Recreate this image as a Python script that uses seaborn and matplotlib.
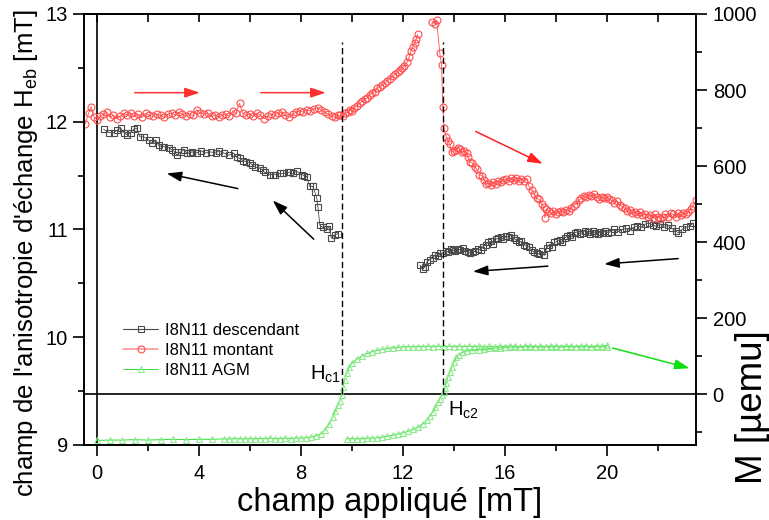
import numpy as np
import pandas as pd
import matplotlib
matplotlib.use("Agg")
import matplotlib.pyplot as plt
import seaborn as sns
from matplotlib.lines import Line2D

# ---------------- data ----------------
# descending branch (black squares), two segments
desc1_x = [0.27,0.47,0.67,0.78,0.94,1.06,1.18,1.33,1.45,1.57,1.69,1.84,2.04,2.16,2.31,2.43,2.55,2.63,2.82,2.94,
           3.06,3.14,3.29,3.41,3.53,3.65,3.73,3.92,4.08,4.27,4.47,4.67,4.78,4.98,5.18,5.37,5.49,5.61,5.73,5.86,
           6.0,6.1,6.2,6.39,6.5,6.59,6.78,6.9,6.98,7.18,7.29,7.49,7.57,7.69,7.84,8.04,8.14,8.24,8.35,8.47,
           8.55,8.63,8.67,8.75,8.86,9.02,9.1,9.2,9.33,9.45]
desc1_y = [11.93,11.90,11.90,11.92,11.94,11.90,11.88,11.90,11.93,11.94,11.86,11.86,11.83,11.80,11.83,11.78,11.77,11.77,11.76,11.74,
           11.72,11.69,11.72,11.74,11.71,11.71,11.72,11.71,11.73,11.71,11.72,11.71,11.73,11.71,11.69,11.71,11.67,11.66,11.64,11.63,
           11.62,11.60,11.58,11.57,11.55,11.53,11.51,11.51,11.51,11.52,11.52,11.53,11.53,11.52,11.54,11.51,11.50,11.49,11.40,11.40,
           11.35,11.29,11.21,11.04,11.02,11.00,11.03,10.92,10.95,10.96]
desc2_x = [12.67,12.78,12.86,12.95,13.06,13.17,13.27,13.38,13.48,13.57,13.68,13.78,13.88,13.96,14.06,14.16,14.26,14.35,14.45,14.55,
           14.65,14.75,14.85,14.95,15.05,15.15,15.25,15.35,15.45,15.55,15.65,15.75,15.85,15.95,16.05,16.15,16.25,16.35,16.45,16.55,
           16.65,16.75,16.85,16.95,17.05,17.15,17.25,17.35,17.45,17.55,17.65,17.75,17.85,17.95,18.05,18.15,18.25,18.35,18.45,18.55,
           18.65,18.75,18.85,18.95,19.05,19.15,19.25,19.35,19.45,19.55,19.65,19.75,19.85,19.95,20.05,20.15,20.3,20.45,20.6,20.75,
           20.9,21.05,21.2,21.35,21.5,21.65,21.8,21.95,22.1,22.25,22.4,22.55,22.7,22.8,22.95,23.1,23.25,23.4]
desc2_y = [10.67,10.63,10.65,10.70,10.72,10.74,10.76,10.75,10.78,10.78,10.80,10.79,10.82,10.81,10.80,10.82,10.81,10.83,10.80,10.79,
           10.78,10.79,10.80,10.82,10.81,10.84,10.86,10.88,10.89,10.87,10.91,10.92,10.93,10.91,10.94,10.93,10.95,10.92,10.90,10.88,
           10.89,10.86,10.85,10.84,10.81,10.79,10.78,10.77,10.80,10.76,10.83,10.86,10.84,10.88,10.89,10.90,10.88,10.92,10.94,10.95,
           10.93,10.97,10.98,10.96,10.97,10.99,10.98,10.96,10.99,10.97,10.96,10.98,10.97,10.99,10.97,10.98,11.00,10.98,11.00,11.01,
           10.99,11.02,11.03,11.02,11.05,11.06,11.04,11.03,11.05,11.02,11.04,11.01,10.99,10.97,11.00,11.02,11.03,11.06]

# ascending branch (red circles), three segments
mont1_x = [-0.45,-0.32,-0.22,-0.1,0.02,0.14,0.26,0.39,0.52,0.65,0.78,0.92,1.06,1.2,1.33,1.47,1.62,1.77,1.92,2.06,
           2.2,2.35,2.5,2.64,2.79,2.94,3.08,3.22,3.36,3.5,3.64,3.78,3.92,4.06,4.2,4.35,4.5,4.64,4.78,4.92,
           5.06,5.2,5.34,5.45,5.6,5.72,5.86,6.0,6.14,6.28,6.42,6.56,6.7,6.84,6.98,7.12,7.26,7.4,7.54,7.68,
           7.82,7.96,8.1,8.24,8.38,8.52,8.66,8.8,8.94,9.08,9.22,9.36,9.48]
mont1_y = [11.98,12.08,12.14,12.04,12.02,12.05,12.07,12.09,12.04,12.06,12.03,12.05,12.08,12.06,12.08,12.05,12.07,12.04,12.08,12.06,
           12.05,12.07,12.06,12.04,12.07,12.08,12.06,12.09,12.07,12.05,12.07,12.06,12.11,12.08,12.07,12.08,12.05,12.06,12.04,12.06,
           12.07,12.05,12.10,12.08,12.17,12.08,12.06,12.07,12.05,12.08,12.06,12.03,12.05,12.07,12.06,12.08,12.09,12.06,12.04,12.07,
           12.09,12.10,12.09,12.11,12.10,12.12,12.13,12.11,12.09,12.07,12.05,12.04,12.06]
mont2_x = [9.53,9.65,9.75,9.85,9.92,10.0,10.1,10.2,10.31,10.4,10.5,10.6,10.7,10.8,10.9,11.0,11.1,11.2,11.3,11.4,
           11.49,11.6,11.7,11.8,11.88,11.96,12.05,12.16,12.25,12.33,12.39,12.47,12.53,12.59]
mont2_y = [12.06,12.05,12.08,12.09,12.11,12.10,12.13,12.15,12.17,12.19,12.21,12.22,12.25,12.27,12.28,12.31,12.32,12.34,12.36,12.38,
           12.40,12.42,12.44,12.46,12.48,12.50,12.52,12.55,12.60,12.66,12.69,12.73,12.77,12.81]
mont3_x = [13.14,13.25,13.33,13.45,13.52,13.57,13.62,13.7,13.78,13.84,13.92,14.0,14.1,14.17,14.24,14.32,14.4,14.5,14.57,14.63,
           14.72,14.82,14.9,15.0,15.1,15.2,15.28,15.36,15.45,15.55,15.65,15.75,15.85,15.95,16.05,16.15,16.25,16.35,16.45,16.55,
           16.65,16.75,16.86,16.95,17.05,17.15,17.25,17.35,17.45,17.52,17.57,17.63,17.72,17.8,17.9,18.0,18.1,18.2,18.3,18.4,
           18.5,18.6,18.7,18.8,18.9,19.0,19.1,19.2,19.3,19.4,19.5,19.6,19.7,19.8,19.9,20.0,20.1,20.2,20.3,20.4,
           20.5,20.6,20.7,20.8,20.9,21.0,21.1,21.2,21.3,21.4,21.5,21.6,21.7,21.8,21.9,22.0,22.1,22.2,22.3,22.4,
           22.5,22.6,22.7,22.8,22.9,23.0,23.1,23.2,23.3,23.4,23.5]
mont3_y = [12.93,12.91,12.94,12.64,12.53,12.14,11.94,11.86,11.82,11.79,11.72,11.73,11.74,11.76,11.75,11.72,11.73,11.71,11.67,11.63,
           11.62,11.58,11.56,11.51,11.50,11.46,11.42,11.43,11.41,11.44,11.42,11.45,11.44,11.46,11.47,11.45,11.48,11.46,11.48,11.45,
           11.47,11.45,11.47,11.40,11.37,11.33,11.29,11.28,11.24,11.21,11.11,11.19,11.17,11.15,11.17,11.14,11.16,11.17,11.16,11.18,
           11.17,11.20,11.22,11.24,11.27,11.29,11.31,11.30,11.32,11.31,11.33,11.30,11.28,11.30,11.29,11.30,11.28,11.27,11.25,11.26,
           11.23,11.21,11.20,11.17,11.18,11.15,11.16,11.14,11.16,11.13,11.14,11.12,11.13,11.11,11.14,11.12,11.10,11.12,11.14,11.12,
           11.15,11.14,11.12,11.15,11.13,11.15,11.14,11.16,11.19,11.22,11.27]

# AGM magnetisation loop (green triangles, right axis, µemu)
agm_down_x = [20.0,19.8,19.6,19.4,19.2,19.0,18.8,18.6,18.4,18.2,18.0,17.8,17.6,17.4,17.2,17.0,16.8,16.6,16.4,16.2,
              16.0,15.8,15.6,15.4,15.2,15.0,14.8,14.6,14.4,14.2,14.0,13.8,13.6,13.4,13.2,13.0,12.8,12.6,12.4,12.2,
              12.0,11.8,11.6,11.4,11.2,11.0,10.8,10.6,10.4,10.2,10.0,9.9,9.8,9.72,9.65,9.6,9.52,9.45,9.35,9.25,
              9.1,8.95,8.8,8.6,8.4,8.2,8.0,7.8,7.6,7.4,7.2,7.0,6.8,6.6,6.4,6.2,6.0,5.8,5.6,5.4,
              5.2,5.0,4.5,4.0,3.5,3.0,2.5,2.0,1.5,1.0,0.5,0.0]
agm_down_m = [128,126,127,125,126,127,125,126,127,125,126,127,125,126,125,127,126,125,126,127,
              125,126,125,126,125,126,125,126,125,126,125,126,125,126,125,126,125,125,124,125,
              124,123,122,120,118,115,112,107,100,92,81,70,55,38,18,-3,-18,-29,-45,-60,
              -80,-95,-104,-110,-113,-115,-116,-116,-117,-116,-117,-117,-116,-117,-117,-118,-117,-118,-118,-117,
              -118,-118,-119,-119,-120,-119,-120,-121,-120,-121,-121,-122]
agm_up_x = [9.8,10.0,10.2,10.4,10.6,10.8,11.0,11.2,11.4,11.6,11.8,12.0,12.2,12.4,12.6,12.8,12.94,13.06,13.18,13.28,
            13.37,13.45,13.53,13.6,13.65,13.7,13.76,13.84,13.92,14.0,14.1,14.2,14.35,14.5,14.7,15.0,15.2,15.4,15.6,15.8,
            16.0,16.2,16.4,16.6,16.8,17.0,17.2,17.4,17.6,17.8,18.0,18.2,18.4,18.6,18.8,19.0,19.2,19.4,19.6,19.8,20.0]
agm_up_m = [-118,-117,-118,-117,-116,-116,-115,-113,-111,-108,-105,-102,-98,-93,-87,-78,-68,-58,-47,-34,
            -21,-12,-3,6,16,30,45,58,71,84,97,104,110,113,115,117,118,120,121,122,
            123,124,123,124,125,124,125,124,125,124,125,124,125,124,125,124,125,124,125,124,125]

series_labels = ["I8N11 descendant", "I8N11 montant", "I8N11 AGM"]
hc_values = [9.6, 13.57]
hc_labels = [r"H$_{\mathrm{c1}}$", r"H$_{\mathrm{c2}}$"]

x_major = [0, 4, 8, 12, 16, 20]
x_minor = [2, 6, 10, 14, 18, 22]
yl_major = [9, 10, 11, 12, 13]
yl_minor = [9.5, 10.5, 11.5, 12.5]
yr_major = [0, 200, 400, 600, 800, 1000]
yr_minor = [-100, 100, 300, 500, 700, 900]

# ---------------- style ----------------
sns.set_style("ticks")
plt.rcParams["font.family"] = ["Liberation Sans", "DejaVu Sans"]
plt.rcParams["mathtext.fontset"] = "custom"
plt.rcParams["mathtext.rm"] = "Liberation Sans"
plt.rcParams["mathtext.it"] = "Liberation Sans:italic"
plt.rcParams["mathtext.bf"] = "Liberation Sans:bold"
plt.rcParams["axes.edgecolor"] = "black"
plt.rcParams["axes.linewidth"] = 1.2
plt.rcParams["xtick.color"] = "black"
plt.rcParams["ytick.color"] = "black"
plt.rcParams["xtick.labelcolor"] = "black"
plt.rcParams["ytick.labelcolor"] = "black"
plt.rcParams["text.color"] = "black"
plt.rcParams["axes.labelcolor"] = "black"

BLACK = "#4a4a4a"
RED = "#ff4d4d"
GREEN_L = "#33e033"
GREEN_M = "#8fea8f"


def frame(segs):
    parts = [pd.DataFrame({"x": xs, "y": ys, "seg": i}) for i, (xs, ys) in enumerate(segs)]
    return pd.concat(parts, ignore_index=True)


df_desc = frame([(desc1_x, desc1_y), (desc2_x, desc2_y)])
df_mont = frame([(mont1_x, mont1_y), (mont2_x, mont2_y), (mont3_x, mont3_y)])
df_agm = frame([(agm_down_x, agm_down_m), (agm_up_x, agm_up_m)])

fig = plt.figure(figsize=(7.69, 5.2), dpi=100)
ax = fig.add_axes([84 / 769, 75 / 520, 612 / 769, 431 / 520])
ax2 = ax.twinx()

ax.set_xlim(-0.5, 23.5)
ax.set_ylim(9, 13)
ax2.set_ylim(-134, 1000)

sns.lineplot(data=df_desc, x="x", y="y", units="seg", estimator=None, sort=False, ax=ax,
             color=BLACK, linewidth=0.6, marker="s", markersize=4.4, markerfacecolor="none",
             markeredgecolor=BLACK, markeredgewidth=0.8, legend=False)
sns.lineplot(data=df_mont, x="x", y="y", units="seg", estimator=None, sort=False, ax=ax,
             color=RED, linewidth=0.6, marker="o", markersize=5.0, markerfacecolor="none",
             markeredgecolor=RED, markeredgewidth=0.8, legend=False)
sns.lineplot(data=df_agm, x="x", y="y", units="seg", estimator=None, sort=False, ax=ax2,
             color=GREEN_L, linewidth=0.7, marker="^", markersize=4.6, markerfacecolor="none",
             markeredgecolor=GREEN_M, markeredgewidth=0.8, legend=False)

# reference lines
ax.axvline(0, color="black", lw=1.2, zorder=1)
ax2.axhline(0, color="black", lw=1.2, zorder=1)
ax2.vlines(hc_values, 0, 926, colors="black", linestyles=(0, (4.5, 2.5)), lw=1.0)

# Hc labels
ax.text(8.35, 9.603, hc_labels[0], fontsize=14.5, ha="left", va="baseline")
ax.text(13.76, 9.269, hc_labels[1], fontsize=14.5, ha="left", va="baseline")

# arrows
arrows_left = [
    ((1.49, 12.27), (4.04, 12.27), "#ff3030"),
    ((6.43, 12.27), (8.98, 12.27), "#ff3030"),
    ((14.86, 11.91), (17.49, 11.61), "#ff2020"),
    ((5.53, 11.38), (2.74, 11.52), "black"),
    ((8.51, 10.91), (6.90, 11.27), "black"),
    ((17.69, 10.66), (14.75, 10.61), "black"),
    ((22.80, 10.73), (19.90, 10.68), "black"),
]
for start, end, col in arrows_left:
    ax.annotate("", xy=end, xytext=start,
                arrowprops=dict(arrowstyle="-|>,head_length=0.6,head_width=0.2", color=col,
                                lw=1.1, mutation_scale=15, shrinkA=0, shrinkB=0))
ax2.annotate("", xy=(23.25, 68), xytext=(20.24, 121),
             arrowprops=dict(arrowstyle="-|>,head_length=0.6,head_width=0.2", color="#10e010",
                             lw=1.1, mutation_scale=15, shrinkA=0, shrinkB=0))

# ticks
ax.set_xticks(x_major)
ax.set_xticks(x_minor, minor=True)
ax.set_yticks(yl_major)
ax.set_yticks(yl_minor, minor=True)
ax2.set_yticks(yr_major)
ax2.set_yticks(yr_minor, minor=True)
ax.tick_params(axis="both", which="major", direction="out", length=8, width=1.2, labelsize=14.5,
               colors="black")
ax.tick_params(axis="both", which="minor", direction="out", length=4.5, width=1.2, colors="black")
ax.tick_params(axis="x", which="major", pad=6)
ax.tick_params(axis="y", which="major", pad=3.5)
ax2.tick_params(axis="y", which="major", direction="out", length=8, width=1.2, labelsize=14.5, pad=4,
                colors="black")
ax2.tick_params(axis="y", which="minor", direction="out", length=4.5, width=1.2, colors="black")

top = ax.secondary_xaxis("top")
top.set_xticks(x_major)
top.set_xticks(x_minor, minor=True)
top.tick_params(axis="x", which="both", direction="in", length=6, width=1.2, labeltop=False)

ax.set_xlabel("")
ax.set_ylabel("")
ax2.set_ylabel("")

fig.text(390 / 769, 9 / 520, "champ appliqué [mT]", fontsize=23.5, ha="center", va="baseline")
fig.text(26 / 769, 1 - 253 / 520, r"champ de l'anisotropie d'échange H$_{\mathrm{eb}}$ [mT]",
         fontsize=18.5, rotation=90, ha="center", va="center")
fig.text(752 / 769, 1 - 407 / 520, "M [µemu]", fontsize=26.5, rotation=90, ha="center", va="center")

# legend
handles = [
    Line2D([], [], color=BLACK, lw=0.8, marker="s", markersize=4.4, mfc="none", mec=BLACK, mew=0.8),
    Line2D([], [], color="#ff9a9a", lw=1.2, marker="o", markersize=5.0, mfc="none", mec=RED, mew=0.8),
    Line2D([], [], color=GREEN_L, lw=0.7, marker="^", markersize=4.6, mfc="none", mec=GREEN_M, mew=0.8),
]
ax.legend(handles, series_labels, loc="upper left", bbox_to_anchor=(0.064, 0.283), frameon=False,
          fontsize=12, borderpad=0, borderaxespad=0, handlelength=2.1, handletextpad=0.4,
          labelspacing=0.3)

fig.savefig("out.png", dpi=100)
